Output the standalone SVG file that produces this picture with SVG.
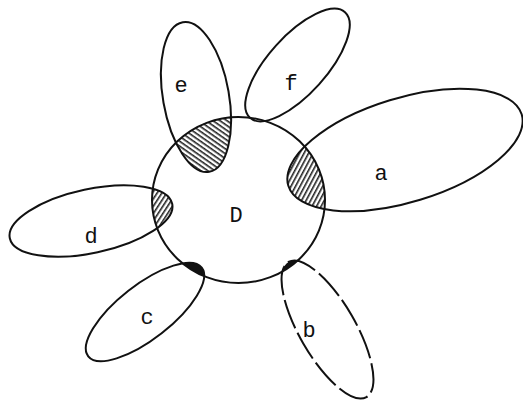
<svg xmlns="http://www.w3.org/2000/svg" width="523" height="400" viewBox="0 0 523 400">
<style>
.o{fill:none;stroke:#111;stroke-width:2}
.h{fill:url(#hatch);stroke:none}
.t{font-family:"Liberation Mono","DejaVu Sans Mono",monospace;font-size:22px;fill:#111;text-anchor:middle}
</style>
<defs>
<pattern id="hatch" patternUnits="userSpaceOnUse" width="4" height="4" patternTransform="rotate(45)">
<rect width="4" height="4" fill="#fff"/>
<rect x="0" y="0" width="1.6" height="4" fill="#222"/>
</pattern>
<clipPath id="circ"><ellipse cx="238.5" cy="200" rx="86.5" ry="83"/></clipPath>
</defs>
<rect width="523" height="400" fill="#fff"/>
<g id="shading" clip-path="url(#circ)">
<ellipse class="h" cx="196" cy="97" rx="76" ry="33" transform="rotate(80 196 97)"/>
<ellipse class="h" cx="405" cy="150" rx="122" ry="52" transform="rotate(-17 405 150)"/>
<ellipse class="h" cx="91" cy="221" rx="83" ry="32" transform="rotate(-12 91 221)"/>
<ellipse fill="#111" cx="145" cy="312" rx="72" ry="27" transform="rotate(-38 145 312)"/>
<ellipse fill="#111" cx="327.5" cy="329.5" rx="78" ry="28" transform="rotate(60 327.5 329.5)"/>
</g>
<g id="D"><ellipse class="o" cx="238.5" cy="200" rx="86.5" ry="83"/><text class="t" x="236" y="222">D</text></g>
<g id="e"><ellipse class="o" cx="196" cy="97" rx="76" ry="33" transform="rotate(80 196 97)"/><text class="t" x="181" y="92">e</text></g>
<g id="f"><ellipse class="o" cx="297.5" cy="65" rx="71" ry="29" transform="rotate(-48 297.5 65)"/><text class="t" x="291" y="90">f</text></g>
<g id="a"><ellipse class="o" cx="405" cy="150" rx="122" ry="52" transform="rotate(-17 405 150)"/><text class="t" x="381" y="180">a</text></g>
<g id="d"><ellipse class="o" cx="91" cy="221" rx="83" ry="32" transform="rotate(-12 91 221)"/><text class="t" x="91" y="243">d</text></g>
<g id="c"><ellipse class="o" cx="145" cy="312" rx="72" ry="27" transform="rotate(-38 145 312)"/><text class="t" x="147" y="324">c</text></g>
<g id="b"><ellipse class="o" cx="327.5" cy="329.5" rx="78" ry="28" transform="rotate(60 327.5 329.5)" stroke-dasharray="30 5"/><text class="t" x="309" y="337">b</text></g>
<g id="connectors"/>
</svg>
